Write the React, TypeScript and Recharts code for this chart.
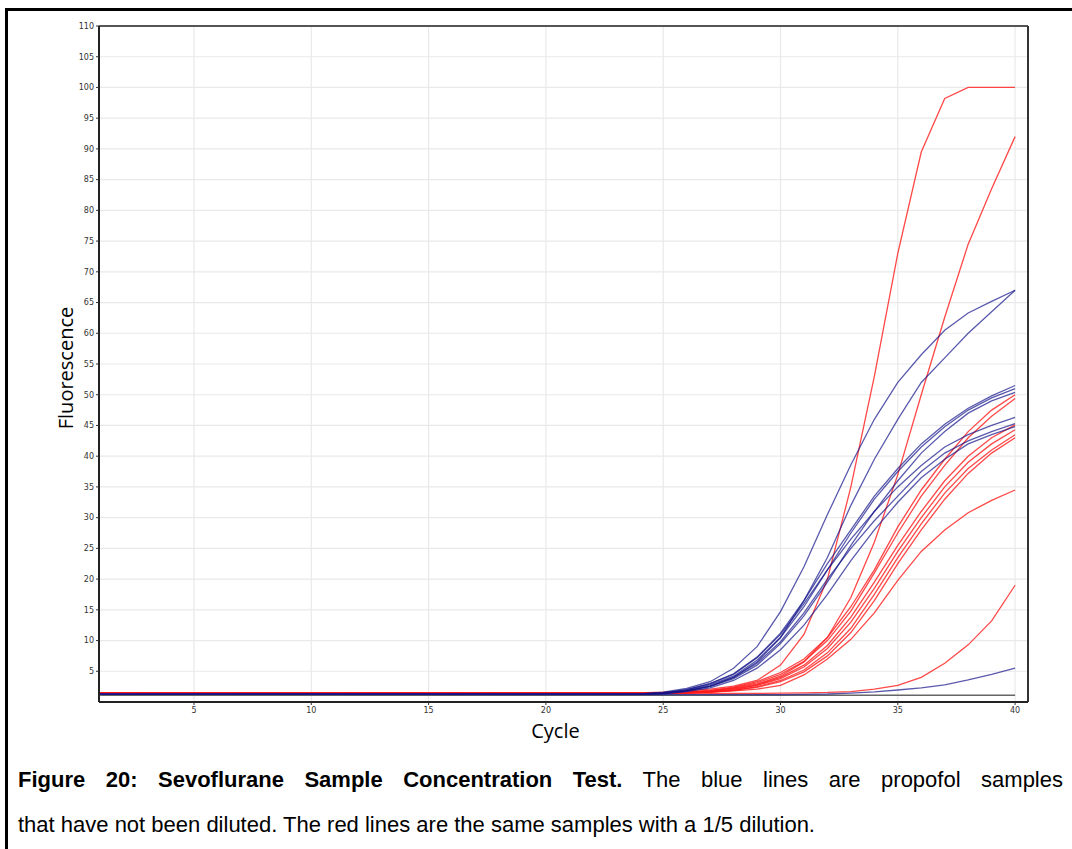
import React from 'react';
import { LineChart, Line, XAxis, YAxis, CartesianGrid, ReferenceLine } from 'recharts';

const cycles = [1, 24, 25, 26, 27, 28, 29, 30, 31, 32, 33, 34, 35, 36, 37, 38, 39, 40];

const xTicks = [5, 10, 15, 20, 25, 30, 35, 40];
const yTicks = [5, 10, 15, 20, 25, 30, 35, 40, 45, 50, 55, 60, 65, 70, 75, 80, 85, 90, 95, 100, 105, 110];

// undiluted propofol samples (blue)
const blue1 = [1.25, 1.3, 1.6, 2.2, 3.3, 5.5, 9.0, 14.7, 22, 30.5, 38.6, 46, 52, 56.5, 60.5, 63.3, 65.2, 67];
const blue2 = [1.25, 1.25, 1.4, 1.8, 2.6, 4.0, 6.5, 10.5, 16.5, 23.5, 32, 39.5, 46, 52, 56, 60, 63.5, 67];
const blue3 = [1.25, 1.3, 1.5, 2.0, 3.0, 4.6, 7.3, 11.2, 16.5, 22.5, 28, 33.5, 38, 42, 45.2, 47.8, 49.8, 51.5];
const blue4 = [1.25, 1.25, 1.4, 1.9, 2.8, 4.2, 6.8, 10.5, 15.5, 21.5, 27.5, 33, 37.5, 41.5, 44.8, 47.5, 49.5, 51];
const blue5 = [1.25, 1.25, 1.4, 1.8, 2.5, 3.8, 6.0, 9.5, 14, 19.5, 25.5, 31, 36, 40.5, 44, 47, 49, 50.4];
const blue6 = [1.25, 1.3, 1.5, 2.0, 3.0, 4.5, 7.2, 11, 16, 21.5, 26.5, 31, 35, 38.5, 41.5, 43.5, 45, 46.3];
const blue7 = [1.25, 1.25, 1.4, 1.8, 2.6, 4.0, 6.3, 9.8, 14.5, 20, 25, 29.5, 33.5, 37.5, 40.5, 42.5, 44, 45.3];
const blue8 = [1.25, 1.25, 1.3, 1.7, 2.3, 3.5, 5.5, 8.5, 12.5, 17.5, 23, 28, 32.5, 36.5, 39.5, 42, 43.5, 44.8];
const blue9 = [1.25, 1.2, 1.2, 1.2, 1.2, 1.2, 1.2, 1.2, 1.25, 1.3, 1.45, 1.65, 1.95, 2.3, 2.8, 3.6, 4.5, 5.5];

// same samples, 1/5 dilution (red)
const red1 = [1.5, 1.5, 1.6, 1.8, 2.1, 2.6, 3.5, 6, 11, 20, 35, 53, 73, 89.5, 98.2, 100, 100, 100];
const red2 = [1.5, 1.5, 1.5, 1.6, 1.8, 2.2, 2.9, 4.2, 6.5, 10.5, 17, 26, 37, 50, 62.6, 74.5, 83.5, 92];
const red3 = [1.5, 1.5, 1.5, 1.6, 1.9, 2.4, 3.3, 4.8, 7.0, 10.5, 15.5, 21.5, 28.5, 34.5, 39.5, 44, 47.5, 50];
const red4 = [1.5, 1.5, 1.5, 1.6, 1.8, 2.3, 3.1, 4.5, 6.6, 10, 14.8, 21, 27.5, 33.5, 38.5, 43, 46.5, 49.4];
const red5 = [1.5, 1.5, 1.5, 1.5, 1.7, 2.1, 2.8, 4.0, 6.0, 9.2, 13.8, 19.5, 25.5, 31, 36, 40, 43, 45.1];
const red6 = [1.5, 1.5, 1.5, 1.5, 1.7, 2.0, 2.7, 3.8, 5.7, 8.7, 13, 18.5, 24.5, 30, 35, 39, 42, 44.3];
const red7 = [1.5, 1.5, 1.5, 1.5, 1.6, 1.9, 2.5, 3.5, 5.2, 8.0, 12, 17.5, 23.5, 29, 34, 38, 41, 43.5];
const red8 = [1.5, 1.5, 1.5, 1.5, 1.6, 1.9, 2.4, 3.3, 4.9, 7.5, 11.3, 16.5, 22.5, 28, 33, 37.2, 40.5, 43];
const red9 = [1.5, 1.5, 1.5, 1.5, 1.6, 1.8, 2.1, 2.7, 4.4, 7, 10.2, 14.5, 19.8, 24.5, 28, 30.8, 32.8, 34.5];
const red10 = [1.5, 1.4, 1.4, 1.4, 1.4, 1.4, 1.4, 1.45, 1.5, 1.55, 1.7, 2.1, 2.7, 4.0, 6.3, 9.3, 13.2, 19];

// threshold line
const threshold = [1.1, 1.1, 1.1, 1.1, 1.1, 1.1, 1.1, 1.1, 1.1, 1.1, 1.1, 1.1, 1.1, 1.1, 1.1, 1.1, 1.1, 1.1];

const blueSeries = [blue1, blue2, blue3, blue4, blue5, blue6, blue7, blue8, blue9];
const redSeries = [red1, red2, red3, red4, red5, red6, red7, red8, red9, red10];

const data = cycles.map((cycle, i) => {
  const row: any = { cycle, thr: threshold[i] };
  blueSeries.forEach((s, j) => { row[`b${j}`] = s[i]; });
  redSeries.forEach((s, j) => { row[`r${j}`] = s[i]; });
  return row;
});

const tickStyle = { fontSize: 8, fill: '#333', fontFamily: 'DejaVu Sans' };

const CycleLabel = (props: any) => {
  const { x, y, width } = props.viewBox;
  return (
    <text x={x + width / 2 - 8} y={y + 36} textAnchor="middle" fontSize={20} fontFamily="Open Sans" fill="#000">
      Cycle
    </text>
  );
};

const App: React.FC = () => {
  return (
    <div style={{ position: 'absolute', left: 0, top: 0, width: 1072, height: 849, background: '#fff', overflow: 'hidden' }}>
      <div style={{ position: 'absolute', left: 5, top: 8, width: 1100, height: 900, borderLeft: '3px solid #000', borderTop: '3px solid #000' }} />
      <div style={{ position: 'absolute', left: 0, top: 0 }}>
        <LineChart width={1072} height={760} data={data} margin={{ top: 26, right: 44, left: 0, bottom: 18 }}>
          <CartesianGrid stroke="#e9e9e9" strokeWidth={1.2} />
          <XAxis
            dataKey="cycle"
            type="number"
            domain={[0.95, 40.55]}
            ticks={xTicks}
            allowDataOverflow
            height={40}
            tick={tickStyle}
            tickSize={3}
            tickLine={{ stroke: '#333' }}
            axisLine={{ stroke: '#222', strokeWidth: 2 }}
            label={<CycleLabel />}
          />
          <YAxis
            type="number"
            domain={[0, 110]}
            ticks={yTicks}
            width={99}
            tick={tickStyle}
            tickSize={3}
            tickLine={{ stroke: '#333' }}
            axisLine={{ stroke: '#222', strokeWidth: 2 }}
            label={{ value: 'Fluorescence', angle: -90, position: 'insideLeft', offset: 66, dy: 4, style: { fontSize: 20, fill: '#000', fontFamily: 'Open Sans', textAnchor: 'middle' } }}
          />
          <ReferenceLine y={110} stroke="#555" strokeWidth={2} />
          <ReferenceLine x={40.55} stroke="#333" strokeWidth={2} />
          <Line dataKey="thr" stroke="#666" strokeWidth={1.5} dot={false} isAnimationActive={false} />
          {redSeries.map((_, j) => (
            <Line key={`r${j}`} dataKey={`r${j}`} type="linear" stroke="#ff1a1a" strokeOpacity={0.8} strokeWidth={1.3} dot={false} isAnimationActive={false} />
          ))}
          {blueSeries.map((_, j) => (
            <Line key={`b${j}`} dataKey={`b${j}`} type="linear" stroke="#14148a" strokeOpacity={0.7} strokeWidth={1.3} dot={false} isAnimationActive={false} />
          ))}
        </LineChart>
      </div>
      <div style={{ position: 'absolute', left: 18, top: 757, width: 1045, fontFamily: 'Liberation Sans', fontSize: 22, lineHeight: '45px', color: '#000', whiteSpace: 'nowrap' }}>
        <div style={{ textAlign: 'justify', textAlignLast: 'justify', whiteSpace: 'normal' }}>
          <b>Figure 20: Sevoflurane Sample Concentration Test.</b> The blue lines are propofol samples
        </div>
        <div>that have not been diluted. The red lines are the same samples with a 1/5 dilution.</div>
      </div>
    </div>
  );
};

export default App;
